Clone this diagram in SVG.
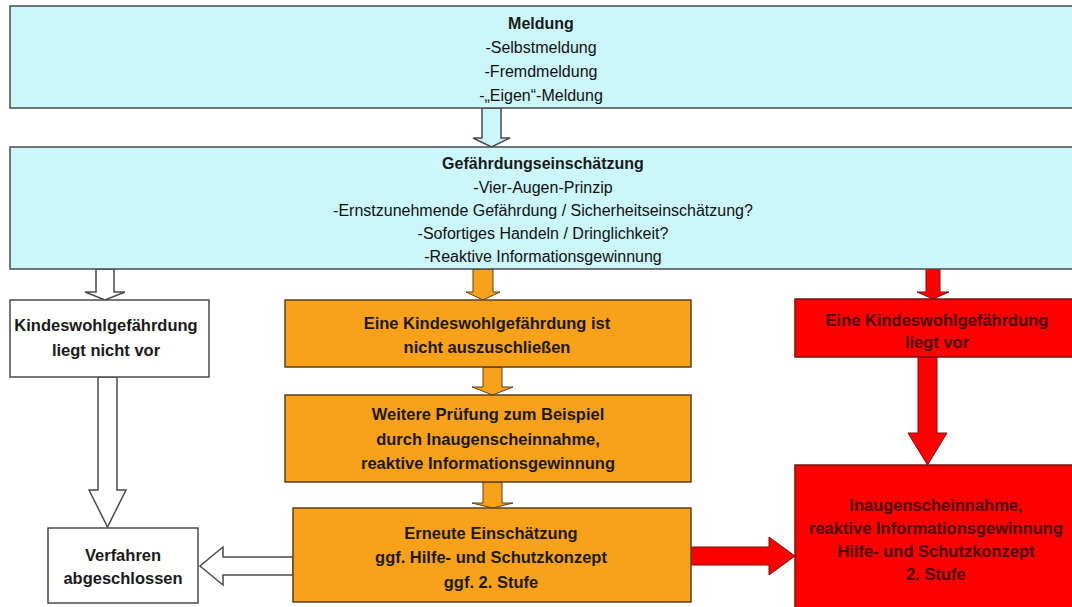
<svg xmlns="http://www.w3.org/2000/svg" width="1072" height="607" viewBox="0 0 1072 607">
<style>
  .cyan{fill:#CBF6FA;stroke:#4a4a4a;stroke-width:1.5}
  .white{fill:#ffffff;stroke:#4a4a4a;stroke-width:1.5}
  .orange{fill:#FAA11A;stroke:#5a4020;stroke-width:1.5}
  .red{fill:#FF0000;stroke:#7a1010;stroke-width:1.5}
  .t{font-family:"Liberation Sans",Arial,sans-serif;font-size:16px;fill:#111;text-anchor:middle}
  .b{font-family:"Liberation Sans",Arial,sans-serif;font-size:16.5px;font-weight:bold;fill:#1a1a1a;text-anchor:middle}
  .rt{fill:#4a0000}
  .arw{stroke:#4a4a4a;stroke-width:1.5;stroke-linejoin:miter}
  .ao{fill:#FAA11A;stroke:#5a4020;stroke-width:1}
  .ar{fill:#FF0000;stroke:#7a1010;stroke-width:1}
</style>
<rect width="1072" height="607" fill="#ffffff"/>
<g id="connectors">
  <polygon class="cyan" points="482,108 501,108 501,138 510,138 491.5,147 473,138 482,138"/>
  <polygon class="white" points="96,269 114,269 114,292 125,292 105,300 85,292 96,292"/>
  <polygon class="white" points="98,377 117,377 117,490 126,490 107.5,527 89,490 98,490"/>
  <polygon class="white" points="293,557 223,557 223,547 200,566 223,585 223,575 293,575"/>
  <polygon class="ao" points="473,269 493,269 493,292 500,292 483,300 466,292 473,292"/>
  <polygon class="ao" points="483,367 502,367 502,387 513,387 492.5,395 472,387 483,387"/>
  <polygon class="ao" points="483,482 502,482 502,503 513,503 492.5,508 472,503 483,503"/>
  <polygon class="ar" points="926,269 940,269 940,292 949,292 933,299 917,292 926,292"/>
  <polygon class="ar" points="918,357 937,357 937,433 947,433 927.5,465 908,433 918,433"/>
  <polygon class="ar" points="691,547 769,547 769,537 795,556 769,575 769,565 691,565"/>
</g>
<g id="meldung">
  <rect class="cyan" x="10" y="6" width="1070" height="102"/>
  <text class="b" x="541" y="29" style="font-size:16px">Meldung</text>
  <text class="t" x="541" y="53">-Selbstmeldung</text>
  <text class="t" x="541" y="77">-Fremdmeldung</text>
  <text class="t" x="541" y="101">-„Eigen“-Meldung</text>
</g>
<g id="gefaehrdungseinschaetzung">
  <rect class="cyan" x="10" y="147" width="1070" height="122"/>
  <text class="b" x="543" y="169" style="font-size:16px">Gefährdungseinschätzung</text>
  <text class="t" x="543" y="193">-Vier-Augen-Prinzip</text>
  <text class="t" x="543" y="216">-Ernstzunehmende Gefährdung / Sicherheitseinschätzung?</text>
  <text class="t" x="543" y="239">-Sofortiges Handeln / Dringlichkeit?</text>
  <text class="t" x="543" y="262">-Reaktive Informationsgewinnung</text>
</g>
<g id="nicht-vor">
  <rect class="white" x="10" y="300" width="199" height="77"/>
  <text class="b" x="106" y="331">Kindeswohlgefährdung</text>
  <text class="b" x="106" y="356">liegt nicht vor</text>
</g>
<g id="nicht-auszuschliessen">
  <rect class="orange" x="285" y="300" width="406" height="67"/>
  <text class="b" x="487" y="329">Eine Kindeswohlgefährdung ist</text>
  <text class="b" x="487" y="353">nicht auszuschließen</text>
</g>
<g id="weitere-pruefung">
  <rect class="orange" x="285" y="395" width="406" height="87"/>
  <text class="b" x="488" y="420">Weitere Prüfung zum Beispiel</text>
  <text class="b" x="488" y="445">durch Inaugenscheinnahme,</text>
  <text class="b" x="488" y="469">reaktive Informationsgewinnung</text>
</g>
<g id="erneute-einschaetzung">
  <rect class="orange" x="293" y="508" width="398" height="94"/>
  <text class="b" x="491" y="539">Erneute Einschätzung</text>
  <text class="b" x="491" y="563">ggf. Hilfe- und Schutzkonzept</text>
  <text class="b" x="491" y="588">ggf. 2. Stufe</text>
</g>
<g id="verfahren-abgeschlossen">
  <rect class="white" x="48" y="528" width="150" height="75"/>
  <text class="b" x="123" y="561">Verfahren</text>
  <text class="b" x="123" y="584">abgeschlossen</text>
</g>
<g id="liegt-vor">
  <rect class="red" x="795" y="299" width="285" height="58"/>
  <text class="b rt" x="937" y="326">Eine Kindeswohlgefährdung</text>
  <text class="b rt" x="937" y="348">liegt vor</text>
</g>
<g id="zweite-stufe">
  <rect class="red" x="795" y="465" width="285" height="150"/>
  <text class="b rt" x="936" y="511">Inaugenscheinnahme,</text>
  <text class="b rt" x="936" y="534">reaktive Informationsgewinnung</text>
  <text class="b rt" x="936" y="557">Hilfe- und Schutzkonzept</text>
  <text class="b rt" x="936" y="580">2. Stufe</text>
</g>
</svg>
